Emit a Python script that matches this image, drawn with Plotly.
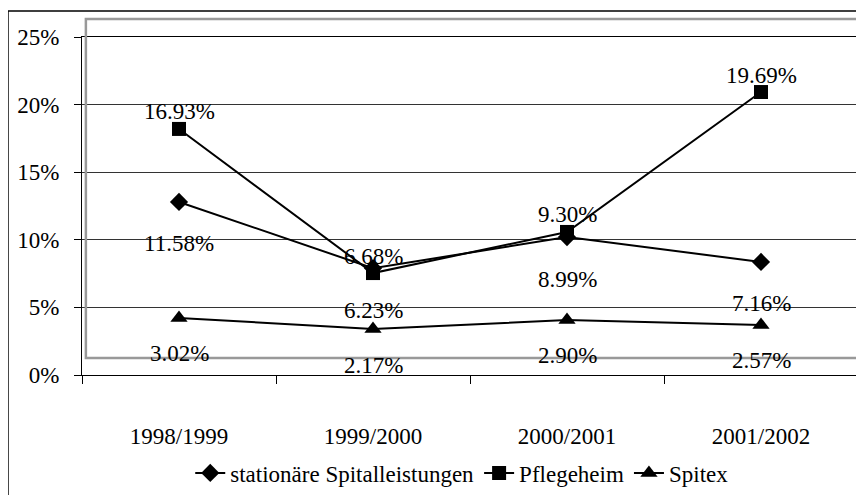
import plotly.graph_objects as go

years = ["1998/1999", "1999/2000", "2000/2001", "2001/2002"]

# plotted positions (percent)
spital = [12.8, 7.9, 10.2, 8.36]
pflege = [18.2, 7.54, 10.58, 20.93]
spitex = [4.22, 3.40, 4.07, 3.70]

# data labels as printed in the chart
spital_lbl = ["11.58%", "6.23%", "8.99%", "7.16%"]
pflege_lbl = ["16.93%", "6.68%", "9.30%", "19.69%"]
spitex_lbl = ["3.02%", "2.17%", "2.90%", "2.57%"]

FONT = "Times New Roman"
TXT = dict(family=FONT, size=23, color="black")

series = [
    ("stationäre Spitalleistungen", spital, spital_lbl, "diamond", 14, -42),
    ("Pflegeheim", pflege, pflege_lbl, "square", 14, 17),
    ("Spitex", spitex, spitex_lbl, "triangle-up", 15, -36),
]

fig = go.Figure()
annotations = []
for name, vals, lbls, sym, size, shift in series:
    fig.add_trace(go.Scatter(
        x=years, y=vals, name=name, mode="lines+markers",
        line=dict(color="black", width=2),
        marker=dict(symbol=sym, size=size, color="black"),
    ))
    for x, y, t in zip(years, vals, lbls):
        annotations.append(dict(x=x, y=y, text=t, showarrow=False, yshift=shift, font=TXT))

# page body has an 8px margin, so shift everything up/left by 8px
fig.update_layout(
    width=864, height=495,
    margin=dict(l=74, r=14, t=29, b=128, autoexpand=False),
    paper_bgcolor="white", plot_bgcolor="white",
    font=TXT,
    annotations=annotations,
    showlegend=True,
    legend=dict(orientation="h", x=0.49, xanchor="center", y=-0.29, yanchor="middle",
                font=TXT, bgcolor="rgba(0,0,0,0)"),
    shapes=[
        dict(type="rect", xref="paper", yref="paper", x0=-0.0954, x1=1.02, y0=-0.37, y1=1.077,
             line=dict(color="black", width=1.5), layer="below"),
        dict(type="rect", xref="paper", yref="paper", x0=0.005, x1=1.004, y0=0.050, y1=1.053,
             line=dict(color="#999999", width=2.5), layer="above"),
    ],
)

fig.update_yaxes(
    range=[0, 25], dtick=5, ticksuffix="%", tickfont=TXT,
    showgrid=True, gridcolor="#333333", gridwidth=1,
    showline=True, linecolor="black", linewidth=1, mirror=True,
    ticks="outside", ticklen=7, tickcolor="black", ticklabelstandoff=10,
    zeroline=False, fixedrange=True, automargin=False,
)
fig.update_xaxes(
    type="category", range=[-0.5, 3.5], tickfont=TXT,
    showgrid=False, showline=True, linecolor="black", linewidth=1, mirror=True,
    ticks="outside", ticklen=8, tickcolor="black", tickson="boundaries",
    ticklabelstandoff=40, fixedrange=True, automargin=False,
)

fig.write_html("out.html")
